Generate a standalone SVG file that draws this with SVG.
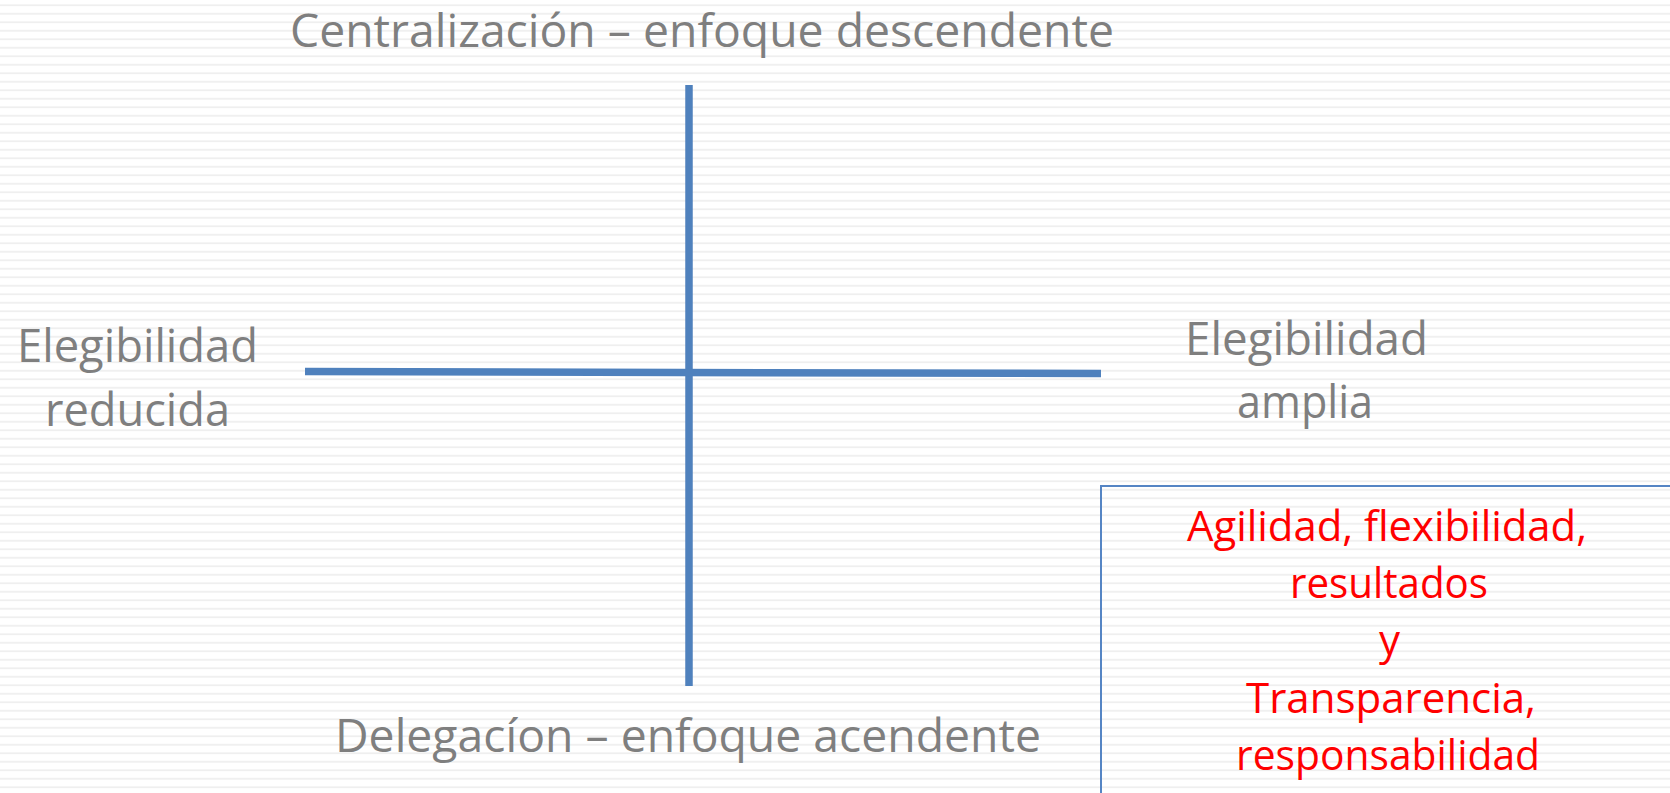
<svg xmlns="http://www.w3.org/2000/svg" width="1670" height="793" viewBox="0 0 1670 793">
  <defs>
    <pattern id="stripes" x="0" y="0.5" width="20" height="8.5" patternUnits="userSpaceOnUse">
      <rect x="0" y="4" width="20" height="1.6" fill="#ededed"/>
    </pattern>
  </defs>
  <style>
    .gray { font-family: "Open Sans", "Liberation Sans", sans-serif; font-size: 46px; fill: #7f7f7f; }
    .red { font-family: "Open Sans", "Liberation Sans", sans-serif; font-size: 42px; fill: #ff0000; }
    .axis { stroke: #4f81bd; stroke-width: 7.5; fill: none; }
    .box { fill: none; stroke: #5585c4; stroke-width: 2; }
  </style>
  <rect x="0" y="0" width="1670" height="793" fill="#ffffff"/>
  <rect x="0" y="0" width="1670" height="793" fill="url(#stripes)"/>

  <g id="connectors">
    <line class="axis" x1="689" y1="85" x2="689" y2="686"/>
    <line class="axis" x1="305" y1="371.5" x2="1101" y2="373.5"/>
  </g>

  <g id="top-label">
    <text class="gray" x="290" y="47" textLength="824" lengthAdjust="spacingAndGlyphs">Centralización – enfoque descendente</text>
  </g>

  <g id="bottom-label">
    <text class="gray" x="335" y="752" textLength="706" lengthAdjust="spacingAndGlyphs">Delegacíon – enfoque acendente</text>
  </g>

  <g id="left-label">
    <text class="gray" x="17" y="362" textLength="241" lengthAdjust="spacingAndGlyphs">Elegibilidad</text>
    <text class="gray" x="45" y="426" textLength="185" lengthAdjust="spacingAndGlyphs">reducida</text>
  </g>

  <g id="right-label">
    <text class="gray" x="1185" y="355" textLength="243" lengthAdjust="spacingAndGlyphs">Elegibilidad</text>
    <text class="gray" x="1237" y="418" textLength="136" lengthAdjust="spacingAndGlyphs">amplia</text>
  </g>

  <g id="result-box">
    <rect class="box" x="1101" y="486" width="600" height="400"/>
    <text class="red" x="1187" y="541" textLength="400" lengthAdjust="spacingAndGlyphs">Agilidad, flexibilidad,</text>
    <text class="red" x="1290" y="598" textLength="198" lengthAdjust="spacingAndGlyphs">resultados</text>
    <text class="red" x="1379" y="655">y</text>
    <text class="red" x="1246" y="713" textLength="290" lengthAdjust="spacingAndGlyphs">Transparencia,</text>
    <text class="red" x="1236" y="770" textLength="304" lengthAdjust="spacingAndGlyphs">responsabilidad</text>
  </g>
</svg>
